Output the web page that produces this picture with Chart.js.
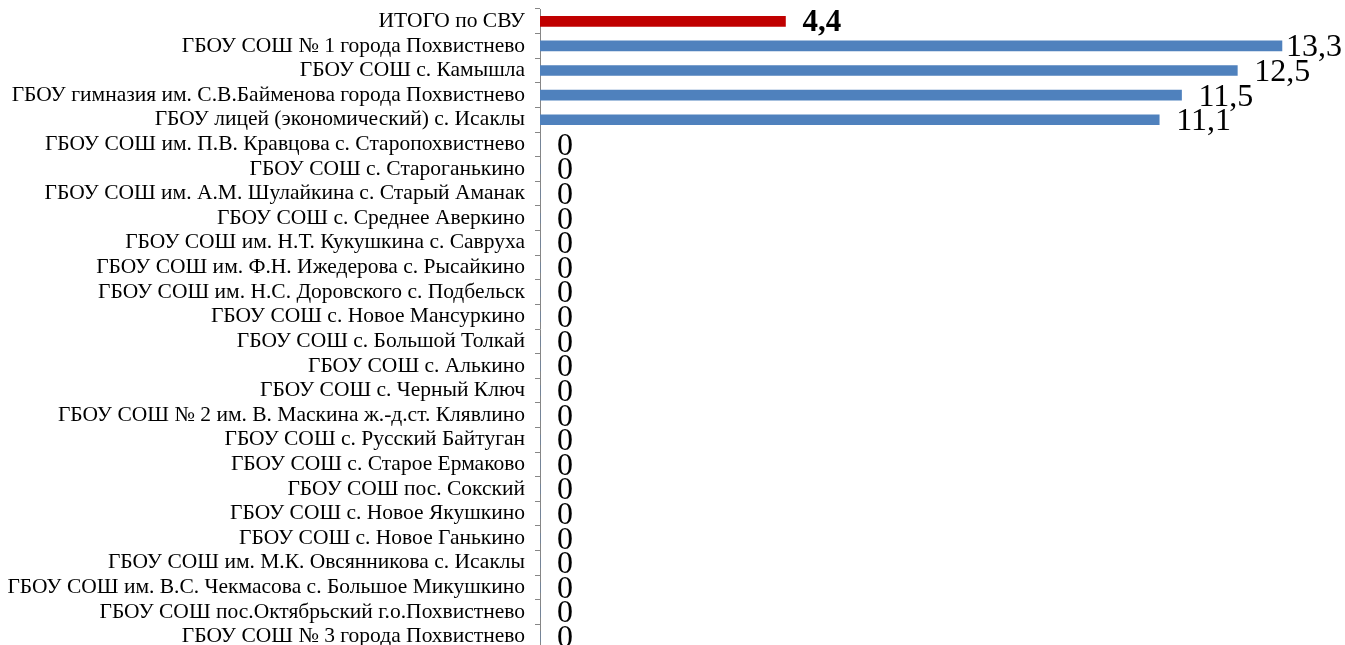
<!DOCTYPE html>
<html lang="ru">
<head>
<meta charset="utf-8">
<script src="https://cdn.jsdelivr.net/npm/chart.js@4"></script>
<style>
  html, body { margin: 0; padding: 0; background: #fff; overflow: hidden; }
  #wrap { width: 1345px; height: 650px; position: relative; }
</style>
</head>
<body>
<div id="wrap"><canvas id="mainChart"></canvas></div>
<script>
// Названия школ (первая строка - итог по СВУ)
const schools = [
  "ИТОГО по СВУ",
  "ГБОУ СОШ № 1 города Похвистнево",
  "ГБОУ СОШ с. Камышла",
  "ГБОУ гимназия им. С.В.Байменова города Похвистнево",
  "ГБОУ лицей (экономический) с. Исаклы",
  "ГБОУ СОШ им. П.В. Кравцова с. Старопохвистнево",
  "ГБОУ СОШ с. Староганькино",
  "ГБОУ СОШ им. А.М. Шулайкина с. Старый Аманак",
  "ГБОУ СОШ с. Среднее Аверкино",
  "ГБОУ СОШ им. Н.Т. Кукушкина с. Савруха",
  "ГБОУ СОШ им. Ф.Н. Ижедерова с. Рысайкино",
  "ГБОУ СОШ им. Н.С. Доровского с. Подбельск",
  "ГБОУ СОШ с. Новое Мансуркино",
  "ГБОУ СОШ с. Большой Толкай",
  "ГБОУ СОШ с. Алькино",
  "ГБОУ СОШ с. Черный Ключ",
  "ГБОУ СОШ № 2 им. В. Маскина ж.-д.ст. Клявлино",
  "ГБОУ СОШ с. Русский Байтуган",
  "ГБОУ СОШ с. Старое Ермаково",
  "ГБОУ СОШ пос. Сокский",
  "ГБОУ СОШ с. Новое Якушкино",
  "ГБОУ СОШ с. Новое Ганькино",
  "ГБОУ СОШ им. М.К. Овсянникова с. Исаклы",
  "ГБОУ СОШ им. В.С. Чекмасова с. Большое Микушкино",
  "ГБОУ СОШ пос.Октябрьский г.о.Похвистнево",
  "ГБОУ СОШ № 3 города Похвистнево",
];

// Значения (%)
const values = [
  4.4, 13.3, 12.5, 11.5, 11.1,
  0, 0, 0, 0, 0, 0, 0, 0, 0, 0, 0, 0, 0, 0, 0, 0, 0, 0, 0, 0, 0,
];

const totalColor = "#C00000";
const barColor = "#4F81BD";
const serif = "'Liberation Serif', 'Times New Roman', serif";

// Подписи значений справа от полос (не выходят за край холста)
const valueLabels = {
  id: "valueLabels",
  afterDatasetsDraw(chart) {
    const ctx = chart.ctx;
    const meta = chart.getDatasetMeta(0);
    ctx.save();
    ctx.fillStyle = "#000";
    ctx.textBaseline = "middle";
    ctx.textAlign = "left";
    meta.data.forEach((bar, i) => {
      const txt = String(values[i]).replace(".", ",");
      ctx.font = (i === 0 ? "bold 31px " : "32px ") + serif;
      const w = ctx.measureText(txt).width;
      const x = Math.min(bar.x + 17, chart.width - w - 3);
      ctx.fillText(txt, x, bar.y + 2);
    });
    ctx.restore();
  },
};

function initChart() {
  const ctx = document.getElementById("mainChart").getContext("2d");
  new Chart(ctx, {
    type: "bar",
    data: {
      labels: schools,
      datasets: [
        {
          data: values,
          backgroundColor: values.map((_, i) => (i === 0 ? totalColor : barColor)),
          borderWidth: 0,
          barThickness: 10,
        },
      ],
    },
    options: {
      indexAxis: "y",
      responsive: true,
      maintainAspectRatio: false,
      animation: false,
      layout: { padding: { top: 9, right: 24, bottom: 1, left: 0 } },
      plugins: {
        legend: { display: false },
        tooltip: { enabled: false },
      },
      scales: {
        x: {
          display: false,
          min: 0,
          max: 14,
        },
        y: {
          afterFit: (scale) => {
            scale.width = 540;
            scale.paddingTop = 0;
            scale.paddingBottom = 0;
          },
          border: { display: true, color: "#868686", width: 1 },
          grid: {
            offset: true,
            drawOnChartArea: false,
            drawTicks: true,
            tickLength: 5,
            color: "#868686",
          },
          ticks: {
            autoSkip: false,
            color: "#000",
            padding: 10,
            font: { family: serif, size: 21.5 },
          },
        },
      },
    },
    plugins: [valueLabels],
  });
}

document.addEventListener("DOMContentLoaded", initChart);
</script>
</body>
</html>
